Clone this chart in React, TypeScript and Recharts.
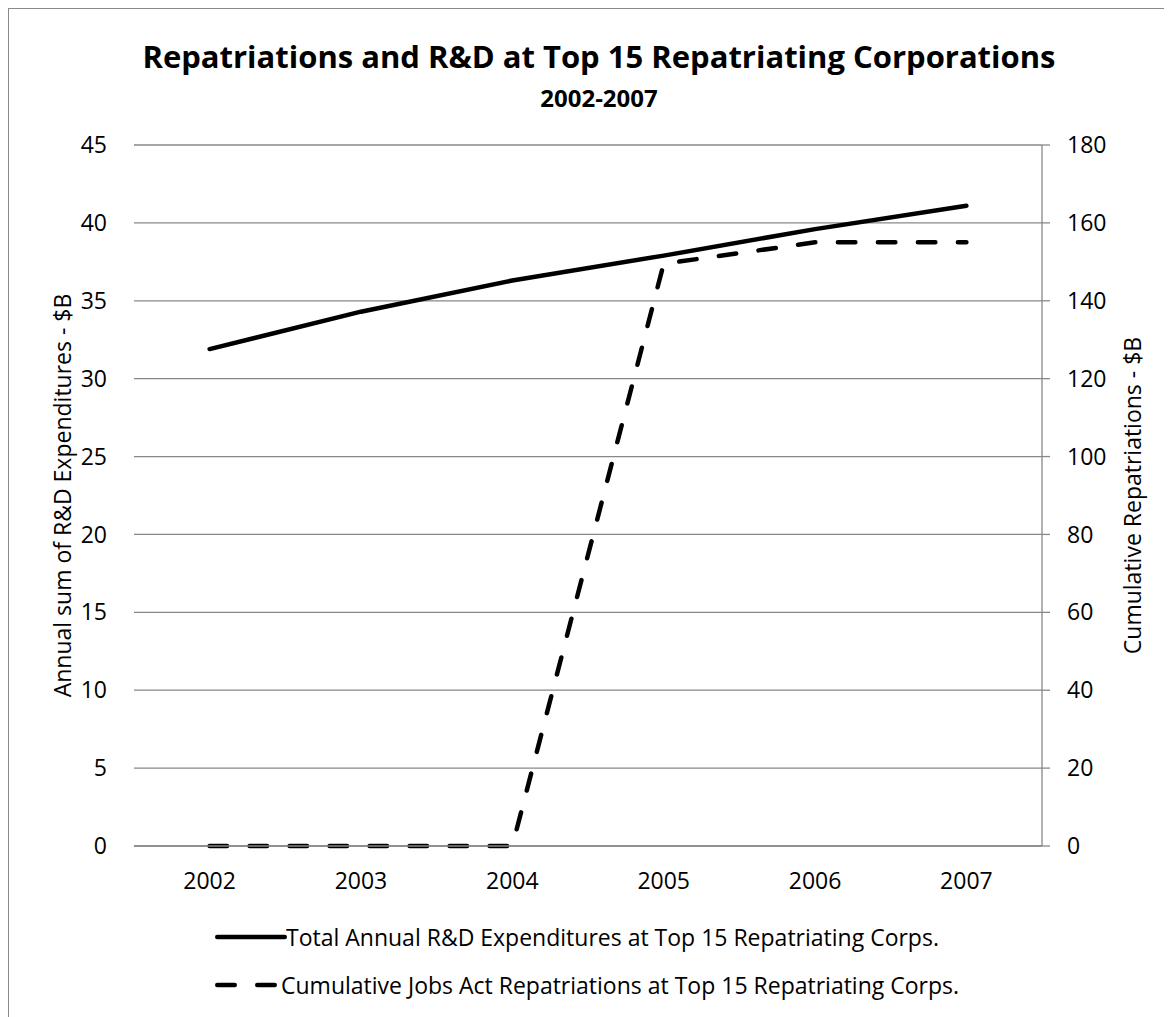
import React from 'react';
import { LineChart, Line, XAxis, YAxis, CartesianGrid, Legend } from 'recharts';

const years = ['2002', '2003', '2004', '2005', '2006', '2007'];
const rdExpenditures = [31.9, 34.3, 36.3, 37.9, 39.6, 41.1];
const cumulativeRepatriations = [0, 0, 0, 149.5, 155, 155];
const leftTicks = [0, 5, 10, 15, 20, 25, 30, 35, 40, 45];
const rightTicks = [0, 20, 40, 60, 80, 100, 120, 140, 160, 180];
const seriesNames = [
  'Total Annual R&D Expenditures at Top 15 Repatriating Corps.',
  'Cumulative Jobs Act Repatriations at Top 15 Repatriating Corps.',
];
const titleText = 'Repatriations and R&D at Top 15 Repatriating Corporations';
const subtitleText = '2002-2007';
const leftAxisTitle = 'Annual sum of R&D Expenditures - $B';
const rightAxisTitle = 'Cumulative Repatriations - $B';

const data = years.map((y, i) => ({
  year: y,
  rd: rdExpenditures[i],
  rep: cumulativeRepatriations[i],
}));

const FONT = '"Open Sans", sans-serif';
const GRAY = '#888888';
const W = 1170;
const H = 1010;
const TICK_FS = 23;

const renderLegend = () => (
  <div style={{ position: 'relative', width: W, height: 120, fontFamily: FONT, fontSize: 23, color: '#000' }}>
    <svg style={{ position: 'absolute', left: 206, top: 41 }} width={72} height={20}>
      <line x1={2.25} y1={10} x2={69.75} y2={10} stroke="#000" strokeWidth={4.5} strokeLinecap="round" />
    </svg>
    <span style={{ position: 'absolute', left: 277, top: 51, transform: 'translateY(-50%)', whiteSpace: 'nowrap', lineHeight: '30px' }}>
      {seriesNames[0]}
    </span>
    <svg style={{ position: 'absolute', left: 206, top: 89 }} width={72} height={20}>
      <line x1={2.25} y1={10} x2={59.75} y2={10} stroke="#000" strokeWidth={4.5} strokeLinecap="round" strokeDasharray="17.5 22.5" />
    </svg>
    <span style={{ position: 'absolute', left: 272, top: 99, transform: 'translateY(-50%)', whiteSpace: 'nowrap', lineHeight: '30px' }}>
      {seriesNames[1]}
    </span>
  </div>
);

const makeAxisTitle = (text: string, cx: number) => (props: any) => {
  const vb = props && props.viewBox ? props.viewBox : { y: 136, height: 701 };
  const cy = vb.y + vb.height / 2;
  return (
    <text
      transform={`translate(${cx},${cy}) rotate(-90)`}
      textAnchor="middle"
      dominantBaseline="central"
      fontFamily={FONT}
      fontSize={TICK_FS}
      fill="#000"
    >
      {text}
    </text>
  );
};

export default function App() {
  return (
    <div
      style={{
        position: 'relative',
        left: -1,
        top: -1,
        width: 1180,
        height: 1030,
        border: '2px solid #8a8a8a',
        background: '#fff',
        overflow: 'hidden',
      }}
    >
      <div
        style={{
          position: 'absolute',
          top: 32,
          left: 0,
          width: '100%',
          textAlign: 'center',
          fontFamily: FONT,
          fontWeight: 700,
          fontSize: 31,
          lineHeight: '31px',
          color: '#000',
          whiteSpace: 'nowrap',
        }}
      >
        {titleText}
      </div>
      <div
        style={{
          position: 'absolute',
          top: 77,
          left: 0,
          width: '100%',
          textAlign: 'center',
          fontFamily: FONT,
          fontWeight: 700,
          fontSize: 24,
          lineHeight: '24px',
          color: '#000',
        }}
      >
        {subtitleText}
      </div>
      <LineChart
        width={W}
        height={H}
        data={data}
        margin={{ top: 136, right: 37, bottom: 13, left: 0 }}
      >
        <CartesianGrid yAxisId="left" vertical={false} stroke={GRAY} strokeWidth={1.3} />
        <XAxis
          dataKey="year"
          padding={{ left: 75.6, right: 75.6 }}
          axisLine={{ stroke: GRAY, strokeWidth: 1.3 }}
          tickLine={false}
          tickSize={0}
          tickMargin={27}
          height={40}
          tick={{ fontFamily: FONT, fontSize: TICK_FS, fill: '#000' }}
        />
        <YAxis
          yAxisId="left"
          orientation="left"
          domain={[0, 45]}
          ticks={leftTicks}
          width={125}
          axisLine={false}
          tickLine={false}
          tickSize={0}
          tickMargin={27}
          tick={{ fontFamily: FONT, fontSize: TICK_FS, fill: '#000' }}
          label={makeAxisTitle(leftAxisTitle, 53)}
        />
        <YAxis
          yAxisId="right"
          orientation="right"
          domain={[0, 180]}
          ticks={rightTicks}
          width={100}
          axisLine={{ stroke: GRAY, strokeWidth: 1.3 }}
          tickLine={{ stroke: GRAY, strokeWidth: 1.3 }}
          tickSize={8}
          tickMargin={17}
          tick={{ fontFamily: FONT, fontSize: TICK_FS, fill: '#000', textAnchor: 'start' }}
          label={makeAxisTitle(rightAxisTitle, 1123)}
        />
        <Legend verticalAlign="bottom" content={renderLegend} wrapperStyle={{ left: 0, width: W, height: 120 }} />
        <Line
          yAxisId="left"
          type="linear"
          dataKey="rd"
          name={seriesNames[0]}
          stroke="#000"
          strokeWidth={4.5}
          strokeLinecap="round"
          dot={false}
          activeDot={false}
          isAnimationActive={false}
        />
        <Line
          yAxisId="right"
          type="linear"
          dataKey="rep"
          name={seriesNames[1]}
          stroke="#000"
          strokeWidth={4.5}
          strokeLinecap="round"
          strokeDasharray="17.5 22.5"
          dot={false}
          activeDot={false}
          isAnimationActive={false}
        />
      </LineChart>
    </div>
  );
}
